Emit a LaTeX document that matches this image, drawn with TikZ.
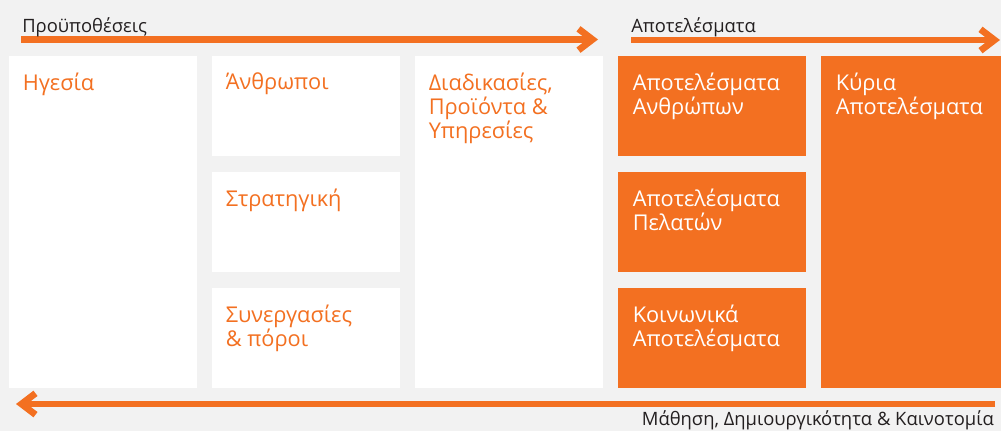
\documentclass[tikz,border=0pt]{standalone}
\usepackage{fontspec}
\setmainfont{Open Sans}
\usetikzlibrary{positioning, arrows.meta}
\definecolor{mOrange}{HTML}{F37021}
\definecolor{mBack}{HTML}{F2F2F2}
\definecolor{mText}{HTML}{231F20}
\tikzset{
  x=0.75pt, y=-0.75pt,
  node distance=12pt and 11.25pt,
  flow/.style={draw=mOrange, line width=5pt, -{Straight Barb[length=10.5pt, width=16pt]}},
  headl/.style={text=mText, font=\fontsize{13.8}{16}\selectfont, inner sep=0pt}
}

\begin{document}
\begin{tikzpicture}[
        whiten/.style={rectangle, fill=white, inner sep=0pt, outer sep=0pt, minimum width=141pt},
        orangen/.style={rectangle, fill=mOrange, inner sep=0pt, outer sep=0pt, minimum width=141pt},
        smalln/.style={minimum height=75pt},
        talln/.style={minimum height=249pt},
        wtext/.style={text=mOrange, align=left, inner sep=0pt, anchor=north west, font=\fontsize{16.3}{18.2}\selectfont, execute at begin node=\strut},
        otext/.style={wtext, text=white}
        ]
        \fill[mBack] (0,0) rectangle (1001,431);
        \useasboundingbox (0,0) rectangle (1001,431);

        % enablers
        \node[whiten, talln, anchor=north west] (lead) at (9,56) {};
        \node[whiten, smalln, right=of lead.north east, anchor=north west] (people) {};
        \node[whiten, smalln, below=of people] (strategy) {};
        \node[whiten, smalln, below=of strategy] (partners) {};
        \node[whiten, talln, right=of people.north east, anchor=north west] (processes) {};

        % results
        \node[orangen, smalln, right=of processes.north east, anchor=north west] (peopleres) {};
        \node[orangen, smalln, below=of peopleres] (customerres) {};
        \node[orangen, smalln, below=of customerres] (societyres) {};
        \node[orangen, talln, minimum width=135pt, right=of peopleres.north east, anchor=north west] (keyres) {};

        \node[wtext] (leadtxt) at ([shift={(13.5,16.5)}]lead.north west) {Ηγεσία};
        \node[wtext] (peopletxt) at ([shift={(13.5,16.5)}]people.north west) {Άνθρωποι};
        \node[wtext] (strategytxt) at ([shift={(13.5,16.5)}]strategy.north west) {Στρατηγική};
        \node[wtext] (partnerstxt) at ([shift={(13.5,16.5)}]partners.north west) {Συνεργασίες\\ \& πόροι};
        \node[wtext] (processestxt) at ([shift={(13.5,16.5)}]processes.north west) {Διαδικασίες,\\ Προϊόντα \&\\ Υπηρεσίες};
        \node[otext] (peoplerestxt) at ([shift={(14.5,16.5)}]peopleres.north west) {Αποτελέσματα\\ Ανθρώπων};
        \node[otext] (customerrestxt) at ([shift={(14.5,16.5)}]customerres.north west) {Αποτελέσματα\\ Πελατών};
        \node[otext] (societyrestxt) at ([shift={(14.5,16.5)}]societyres.north west) {Κοινωνικά\\ Αποτελέσματα};
        \node[otext] (keyrestxt) at ([shift={(14.5,16.5)}]keyres.north west) {Κύρια\\ Αποτελέσματα};

        % arrows
        \coordinate (reqstart) at (21,39.5);
        \coordinate (reqend) at (598,39.5);
        \coordinate (resstart) at (631,40);
        \coordinate (resend) at (1000,40);
        \coordinate (learnstart) at (995,404);
        \coordinate (learnend) at (16,404);
        \draw[flow] (reqstart) -- (reqend);
        \draw[flow] (resstart) -- (resend);
        \draw[flow] (learnstart) -- (learnend);

        \node[headl, anchor=base west] (reqlabel) at (22,33) {Προϋποθέσεις};
        \node[headl, anchor=base west] (reslabel) at (631,33) {Αποτελέσματα};
        \node[headl, anchor=base east] (learnlabel) at (994,426) {Μάθηση, Δημιουργικότητα \& Καινοτομία};
      \end{tikzpicture}
\end{document}
